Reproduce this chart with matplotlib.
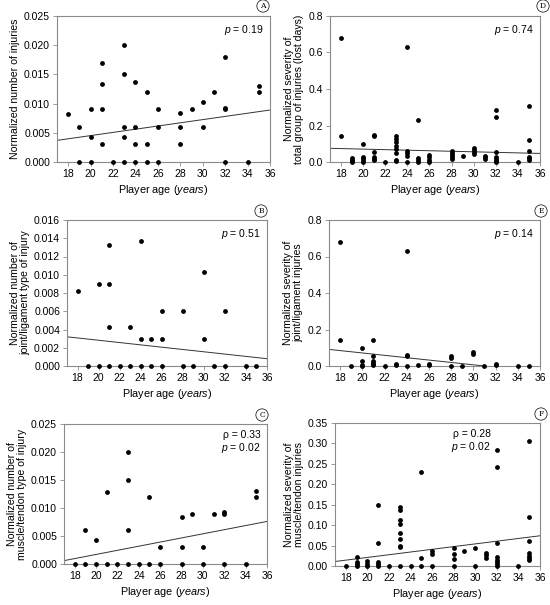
import matplotlib
matplotlib.use("Agg")
import matplotlib.pyplot as plt
from matplotlib.ticker import FormatStrFormatter, MultipleLocator

plt.rcParams['font.family'] = ['Liberation Sans', 'DejaVu Sans']
plt.rcParams['mathtext.fontset'] = 'custom'
plt.rcParams['mathtext.it'] = 'Liberation Sans:italic'
plt.rcParams['mathtext.rm'] = 'Liberation Sans'

# ---------------- data ----------------
# Panel A: normalized number of injuries
a_x = [18, 19, 19, 20, 20, 20, 21, 21, 21, 21, 22, 23, 23, 23, 23, 23,
       24, 24, 24, 24, 25, 25, 25, 26, 26, 26, 28, 28, 28, 29, 30, 30,
       31, 32, 32, 32, 32, 34, 35, 35]
a_y = [0.0082, 0.006, 0.0, 0.009, 0.0043, 0.0, 0.017, 0.0133, 0.009, 0.003,
       0.0, 0.020, 0.015, 0.006, 0.0043, 0.0, 0.0137, 0.006, 0.003, 0.0,
       0.012, 0.003, 0.0, 0.009, 0.006, 0.0, 0.0084, 0.006, 0.003, 0.009,
       0.0103, 0.006, 0.012, 0.018, 0.0093, 0.009, 0.0, 0.0, 0.013, 0.012]
a_fit_x = [17, 36]
a_fit_y = [0.0037, 0.0089]

# Panel B: joint/ligament number
b_x = [18, 19, 20, 20, 21, 21, 21, 21, 22, 23, 23, 24, 24, 24, 25, 25,
       26, 26, 26, 28, 28, 29, 30, 30, 31, 32, 32, 34, 35]
b_y = [0.0082, 0.0, 0.009, 0.0, 0.0133, 0.009, 0.0043, 0.0, 0.0, 0.0043, 0.0,
       0.0137, 0.003, 0.0, 0.003, 0.0, 0.006, 0.003, 0.0, 0.006, 0.0, 0.0,
       0.0103, 0.003, 0.0, 0.006, 0.0, 0.0, 0.0]
b_fit_x = [17, 36]
b_fit_y = [0.0032, 0.0008]

# Panel C: muscle/tendon number
c_x = [18, 19, 19, 20, 20, 21, 21, 22, 23, 23, 23, 23, 24, 25, 25, 26, 26,
       28, 28, 28, 29, 30, 30, 31, 32, 32, 32, 34, 35, 35]
c_y = [0.0, 0.006, 0.0, 0.0043, 0.0, 0.0128, 0.0, 0.0, 0.020, 0.015, 0.006,
       0.0, 0.0, 0.012, 0.0, 0.003, 0.0, 0.0084, 0.003, 0.0, 0.009, 0.003,
       0.0, 0.009, 0.0093, 0.009, 0.0, 0.0, 0.013, 0.012]
c_fit_x = [17, 36]
c_fit_y = [0.0006, 0.0076]

# Panel D: severity total (lost days)
d_x = [18, 18, 19, 19, 19, 19, 20, 20, 20, 20, 20, 21, 21, 21, 21, 21, 21,
       22, 23, 23, 23, 23, 23, 23, 23, 23, 24, 24, 24, 24, 24, 25, 25, 25, 25,
       26, 26, 26, 26, 28, 28, 28, 28, 28, 29, 30, 30, 30, 30, 31, 31, 31,
       32, 32, 32, 32, 32, 32, 32, 34, 35, 35, 35, 35, 35, 35]
d_y = [0.68, 0.145, 0.02, 0.012, 0.005, 0.0, 0.10, 0.03, 0.022, 0.01, 0.0,
       0.15, 0.14, 0.055, 0.025, 0.018, 0.01, 0.0, 0.145, 0.128, 0.11,
       0.09, 0.072, 0.052, 0.01, 0.004, 0.63, 0.06, 0.05, 0.035, 0.0, 0.23,
       0.02, 0.01, 0.0, 0.038, 0.028, 0.012, 0.0, 0.058, 0.048, 0.038, 0.028,
       0.018, 0.035, 0.075, 0.065, 0.055, 0.045, 0.035, 0.025, 0.015, 0.285,
       0.245, 0.055, 0.025, 0.015, 0.005, 0.0, 0.0, 0.305, 0.12, 0.06, 0.03,
       0.02, 0.01]
d_fit_x = [17, 36]
d_fit_y = [0.075, 0.047]

# Panel E: severity joint/ligament
e_x = [18, 18, 19, 20, 20, 20, 20, 21, 21, 21, 21, 21, 21, 22, 23, 23, 24,
       24, 24, 24, 25, 26, 26, 28, 28, 28, 29, 30, 30, 31, 32, 32, 34, 35]
e_y = [0.68, 0.145, 0.0, 0.10, 0.03, 0.005, 0.0, 0.14, 0.055, 0.025, 0.018,
       0.01, 0.004, 0.0, 0.01, 0.004, 0.63, 0.06, 0.055, 0.0, 0.005, 0.01,
       0.004, 0.055, 0.045, 0.0, 0.0, 0.075, 0.065, 0.0, 0.01, 0.004, 0.0, 0.0]
e_fit_x = [17, 31]
e_fit_y = [0.091, 0.0]

# Panel F: severity muscle/tendon
f_x = [18, 19, 19, 19, 19, 20, 20, 20, 21, 21, 21, 21, 21, 22,
       23, 23, 23, 23, 23, 23, 23, 23, 23, 24, 25, 25, 25, 26, 26, 26,
       28, 28, 28, 28, 29, 30, 30, 31, 31, 31,
       32, 32, 32, 32, 32, 32, 32, 32, 34, 35, 35, 35, 35, 35, 35, 35]
f_y = [0.0, 0.021, 0.011, 0.005, 0.0, 0.013, 0.005, 0.0, 0.15, 0.056, 0.01,
       0.005, 0.0, 0.0, 0.145, 0.137, 0.113, 0.103, 0.081, 0.066, 0.050,
       0.046, 0.0, 0.0, 0.23, 0.019, 0.0, 0.037, 0.029, 0.0, 0.045, 0.03,
       0.018, 0.0, 0.036, 0.045, 0.0, 0.033, 0.026, 0.019, 0.285, 0.243,
       0.057, 0.021, 0.015, 0.010, 0.005, 0.0, 0.0, 0.307, 0.12, 0.06, 0.031,
       0.025, 0.020, 0.015]
f_fit_x = [17, 36]
f_fit_y = [0.011, 0.074]

x_ticks = [18, 20, 22, 24, 26, 28, 30, 32, 34, 36]

# ---------------- layout ----------------
W, H = 550, 605
fig = plt.figure(figsize=(W / 100, H / 100), dpi=100)

def make_ax(l, r, t, b):
    return fig.add_axes([l / W, 1 - b / H, (r - l) / W, (b - t) / H])

spine_c = '#8a8a8a'

panels = [
    ((57, 270, 16, 162), a_x, a_y, a_fit_x, a_fit_y, 0.025, 0.005, '%.3f',
     'Normalized number of injuries', 'A', (263, 6), ['$p$ = 0.19']),
    ((330, 540, 16, 162), d_x, d_y, d_fit_x, d_fit_y, 0.8, 0.2, '%.1f',
     'Normalized severity of\ntotal group of injuries (lost days)', 'D', (543, 6),
     ['$p$ = 0.74']),
    ((67, 267, 220, 366), b_x, b_y, b_fit_x, b_fit_y, 0.016, 0.002, '%.3f',
     'Normalized number of\njoint/ligament type of injury', 'B', (261, 211),
     ['$p$ = 0.51']),
    ((329, 540, 220, 366), e_x, e_y, e_fit_x, e_fit_y, 0.8, 0.2, '%.1f',
     'Normalized severity of\njoint/ligament injuries', 'E', (541, 211),
     ['$p$ = 0.14']),
    ((64, 267, 424, 564), c_x, c_y, c_fit_x, c_fit_y, 0.025, 0.005, '%.3f',
     'Normalized number of\nmuscle/tendon type of injury', 'C', (262, 415),
     ['\u03c1 = 0.33', '$p$ = 0.02']),
    ((335, 540, 423, 566), f_x, f_y, f_fit_x, f_fit_y, 0.35, 0.05, '%.2f',
     'Normalized severity of\nmuscle/tendon injuries', 'F', (541, 414),
     ['\u03c1 = 0.28', '$p$ = 0.02']),
]

for (box, xs, ys, fx, fy, ymax, ystep, fmt, ylabel, letter, lxy, stats) in panels:
    ax = make_ax(*box)
    ax.scatter(xs, ys, s=12, color='black', zorder=3, clip_on=False, linewidths=0)
    ax.plot(fx, fy, color='#333333', lw=0.7, zorder=2)
    ax.set_xlim(17, 36)
    ax.set_ylim(0, ymax)
    ax.set_xticks(x_ticks)
    ax.yaxis.set_major_locator(MultipleLocator(ystep))
    ax.yaxis.set_major_formatter(FormatStrFormatter(fmt))
    ax.tick_params(labelsize=7.5, length=3, width=0.6, color=spine_c, pad=2)
    for sp in ax.spines.values():
        sp.set_color(spine_c)
        sp.set_linewidth(0.8)
    ax.set_xlabel('Player age ($years$)', fontsize=7.8, labelpad=3)
    ax.set_ylabel(ylabel, fontsize=7.6, linespacing=1.0, labelpad=3)
    if len(stats) == 1:
        ax.text(0.97, 0.95, stats[0], transform=ax.transAxes, ha='right',
                va='top', fontsize=7.5)
    else:
        xr = 0.97 if letter == 'C' else 0.76
        ax.text(xr, 0.92, stats[0], transform=ax.transAxes, ha='right',
                va='center', fontsize=7.5)
        ax.text(xr, 0.83, stats[1], transform=ax.transAxes, ha='right',
                va='center', fontsize=7.5)
    fig.text(lxy[0] / W, 1 - lxy[1] / H, letter, ha='center', va='center',
             fontsize=5.5, family='DejaVu Serif',
             bbox=dict(boxstyle='circle,pad=0.28', fc='white', ec='black', lw=0.5))

fig.savefig('out.png', dpi=100)
